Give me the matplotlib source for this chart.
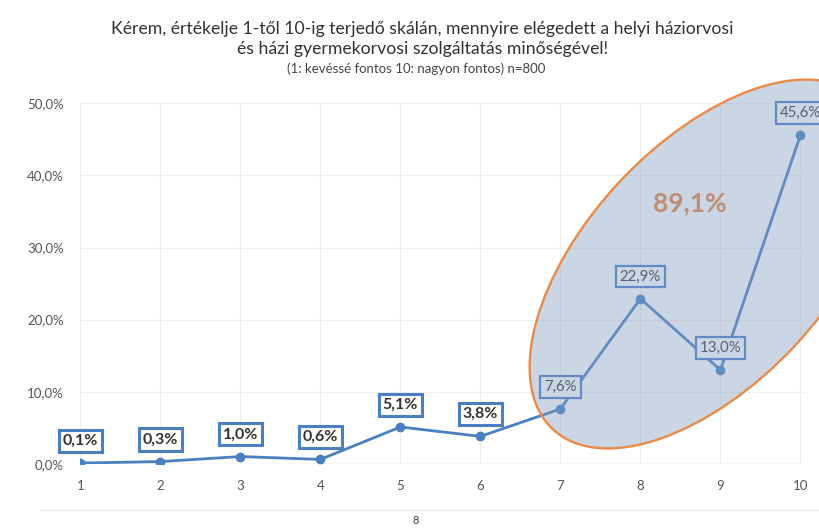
import matplotlib.pyplot as plt
from matplotlib.patches import Ellipse
from matplotlib.transforms import IdentityTransform
from matplotlib.ticker import FuncFormatter

plt.rcParams['font.family'] = ['Lato', 'Open Sans', 'DejaVu Sans']

# adatok
categories = [1, 2, 3, 4, 5, 6, 7, 8, 9, 10]
values = [0.1, 0.3, 1.0, 0.6, 5.1, 3.8, 7.6, 22.9, 13.0, 45.6]
labels = ['0,1%', '0,3%', '1,0%', '0,6%', '5,1%', '3,8%', '7,6%', '22,9%', '13,0%', '45,6%']
yticks = [0, 10, 20, 30, 40, 50]
highlight = '89,1%'

line_color = '#4a7fc1'
fig = plt.figure(figsize=(8.2, 5.3), dpi=100)
ax = fig.add_axes([0.098, 0.125, 0.884, 0.68])

ax.plot(categories, values, color=line_color, linewidth=2, marker='o',
        markersize=6, zorder=3)

for x, y, lab in zip(categories, values, labels):
    inside = x >= 7
    ax.annotate(lab, xy=(x, y), xytext=(0, 16), textcoords='offset points',
                ha='center', va='center', fontsize=10.8 if inside else 11.5,
                fontweight='normal' if inside else 'bold',
                color='#333333',
                bbox=dict(boxstyle='square,pad=0.26', fc='white',
                          ec=line_color, lw=1.6 if inside else 2.2),
                zorder=4)

ax.set_xlim(1, 10.06)
ax.set_ylim(0, 50)
ax.set_xticks(categories)
ax.set_yticks(yticks)
ax.yaxis.set_major_formatter(FuncFormatter(lambda v, p: f'{v:.1f}%'.replace('.', ',')))
ax.tick_params(axis='both', length=0, colors='#555555', labelsize=9.5)
ax.tick_params(axis='x', pad=12)
ax.tick_params(axis='y', pad=12)
ax.grid(True, color='#eeeeee', linewidth=0.8)
for s in ax.spines.values():
    s.set_visible(False)
ax.axhline(0, color='#dddddd', linewidth=1, zorder=1)

# kiemelő ellipszis (7-10 pont), képpont-koordinátákban
ell = Ellipse((707, 266), width=452, height=240, angle=47,
              transform=IdentityTransform(),
              fc=(0.52, 0.62, 0.76, 0.42), ec='#ea8a48', lw=1.7, zorder=5)
fig.add_artist(ell)

ax.text(8.62, 36.1, highlight, ha='center', va='center', fontsize=19,
        fontweight='bold', color='#e8823a', zorder=6)

fig.text(0.515, 0.945, 'Kérem, értékelje 1-től 10-ig terjedő skálán, mennyire elégedett a helyi háziorvosi',
         ha='center', va='center', fontsize=12.7, color='#333333')
fig.text(0.515, 0.908, 'és házi gyermekorvosi szolgáltatás minőségével!',
         ha='center', va='center', fontsize=12.7, color='#333333')
fig.text(0.508, 0.87, '(1: kevéssé fontos 10: nagyon fontos) n=800',
         ha='center', va='center', fontsize=9.5, color='#444444')

fig.text(0.507, 0.018, '8', ha='center', va='center', fontsize=8, color='#444444')
fig.add_artist(plt.Line2D([0.05, 1.0], [0.038, 0.038], color='#e6e6e6', lw=1))

fig.savefig('out.png', dpi=100)
